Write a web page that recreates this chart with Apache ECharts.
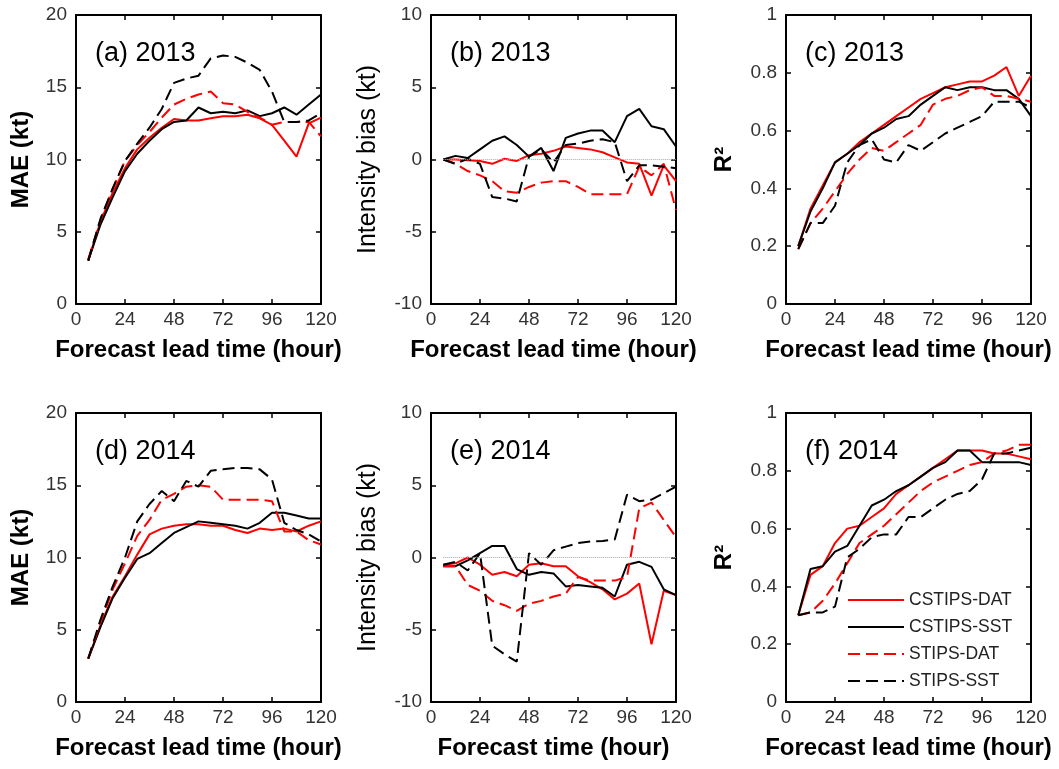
<!DOCTYPE html>
<html>
<head>
<meta charset="utf-8">
<script src="https://cdn.jsdelivr.net/npm/echarts@6/dist/echarts.min.js"></script>
<style>
  html, body { margin: 0; padding: 0; background: #fff; }
  #chart { width: 1059px; height: 769px; }
</style>
</head>
<body>
<div id="chart"></div>
<script>
// Forecast lead times (hours)
const hours = [6, 12, 18, 24, 30, 36, 42, 48, 54, 60, 66, 72, 78, 84, 90, 96, 102, 108, 114, 120];
const seriesNames = ['CSTIPS-DAT', 'CSTIPS-SST', 'STIPS-DAT', 'STIPS-SST'];
const panelLabels = ['(a) 2013', '(b) 2013', '(c) 2013', '(d) 2014', '(e) 2014', '(f) 2014'];
const yTitles = ['MAE (kt)', 'Intensity bias (kt)', 'R\u00B2'];
const xTitles = ['Forecast lead time (hour)', 'Forecast lead time (hour)', 'Forecast lead time (hour)',
                 'Forecast lead time (hour)', 'Forecast time (hour)', 'Forecast lead time (hour)'];

// (a) MAE 2013
const maeCstipsDat2013 = [3.0, 5.7, 7.7, 9.4, 10.7, 11.5, 12.2, 12.8, 12.7, 12.7, 12.85, 13.0, 13.0, 13.1, 12.85, 12.4, 11.3, 10.2, 12.5, 12.9];
const maeCstipsSst2013 = [3.0, 5.5, 7.4, 9.2, 10.4, 11.3, 12.1, 12.6, 12.7, 13.6, 13.2, 13.3, 13.2, 13.4, 13.0, 13.2, 13.6, 13.1, 13.8, 14.5];
const maeStipsDat2013  = [3.1, 5.8, 8.0, 9.9, 11.0, 11.9, 12.9, 13.8, 14.2, 14.5, 14.7, 13.9, 13.8, 13.3, 12.9, 12.4, 12.6, 12.6, 12.6, 11.6];
const maeStipsSst2013  = [3.0, 5.9, 8.0, 9.9, 11.1, 12.2, 13.5, 15.3, 15.6, 15.8, 17.0, 17.2, 17.1, 16.7, 16.2, 14.7, 12.6, 12.6, 12.7, 13.2];
// (b) Intensity bias 2013
const biasCstipsDat2013 = [0, 0, -0.05, -0.1, -0.3, 0.05, -0.1, 0.3, 0.4, 0.6, 0.9, 0.8, 0.7, 0.5, 0.15, -0.2, -0.3, -2.5, -0.4, -1.5];
const biasCstipsSst2013 = [0, 0.25, 0.1, 0.7, 1.3, 1.6, 1.0, 0.2, 0.8, -0.8, 1.5, 1.8, 2.0, 2.0, 1.2, 3.0, 3.5, 2.3, 2.1, 0.9];
const biasStipsDat2013  = [0, -0.3, -0.8, -1.1, -1.5, -2.2, -2.3, -1.9, -1.6, -1.5, -1.5, -1.9, -2.4, -2.4, -2.4, -2.4, -0.5, -1.1, -0.3, -3.5];
const biasStipsSst2013  = [0, -0.3, 0.05, -0.3, -2.6, -2.7, -2.9, 0.2, 0.7, -0.2, 1.0, 1.1, 1.3, 1.4, 1.2, -1.5, -0.4, -0.4, -0.5, -0.6];
// (c) R^2 2013
const r2CstipsDat2013 = [0.20, 0.33, 0.41, 0.49, 0.52, 0.56, 0.59, 0.62, 0.65, 0.68, 0.71, 0.73, 0.75, 0.76, 0.77, 0.77, 0.79, 0.82, 0.72, 0.79];
const r2CstipsSst2013 = [0.20, 0.32, 0.40, 0.49, 0.52, 0.55, 0.59, 0.61, 0.64, 0.65, 0.69, 0.72, 0.75, 0.74, 0.75, 0.75, 0.74, 0.74, 0.71, 0.65];
const r2StipsDat2013  = [0.19, 0.28, 0.33, 0.39, 0.45, 0.50, 0.54, 0.53, 0.56, 0.59, 0.62, 0.69, 0.71, 0.72, 0.74, 0.75, 0.72, 0.72, 0.71, 0.70];
const r2StipsSst2013  = [0.19, 0.28, 0.28, 0.34, 0.49, 0.55, 0.57, 0.50, 0.49, 0.55, 0.53, 0.56, 0.59, 0.61, 0.63, 0.65, 0.70, 0.70, 0.70, 0.68];
// (d) MAE 2014
const maeCstipsDat2014 = [3.0, 5.3, 7.3, 8.7, 10.2, 11.6, 12.0, 12.2, 12.3, 12.3, 12.2, 12.2, 11.9, 11.7, 12.0, 11.9, 12.0, 11.8, 12.2, 12.5];
const maeCstipsSst2014 = [3.0, 5.2, 7.2, 8.6, 9.9, 10.3, 11.0, 11.7, 12.1, 12.5, 12.4, 12.3, 12.2, 12.0, 12.4, 13.1, 13.1, 12.9, 12.7, 12.7];
const maeStipsDat2014  = [3.0, 5.5, 7.8, 9.6, 11.5, 12.6, 14.0, 14.4, 14.9, 15.0, 14.9, 14.0, 14.0, 14.0, 14.0, 13.9, 11.8, 11.8, 11.2, 10.9];
const maeStipsSst2014  = [3.0, 5.7, 8.0, 10.0, 12.5, 13.7, 14.6, 13.9, 15.3, 14.9, 16.0, 16.1, 16.2, 16.2, 16.1, 15.4, 12.4, 11.9, 11.6, 11.1];
// (e) Intensity bias 2014
const biasCstipsDat2014 = [-0.5, -0.4, 0, -0.5, -1.2, -1.0, -1.3, -0.5, -0.4, -0.6, -0.6, -1.3, -1.7, -2.2, -2.9, -2.5, -1.8, -6.0, -2.3, -2.6];
const biasCstipsSst2014 = [-0.6, -0.6, -0.2, 0.3, 0.8, 0.8, -0.8, -1.2, -1.0, -1.1, -2.0, -1.9, -2.0, -2.1, -2.7, -0.5, -0.3, -0.65, -2.2, -2.6];
const biasStipsDat2014  = [-0.6, -0.6, -1.9, -2.3, -3.0, -3.3, -3.7, -3.2, -3.0, -2.7, -2.5, -1.35, -1.6, -1.6, -1.6, -1.35, 3.4, 3.8, 2.6, 1.4];
const biasStipsSst2014  = [-0.5, -0.3, -0.9, 0.3, -6.1, -6.7, -7.2, 0.3, -0.5, 0.5, 0.75, 1.0, 1.1, 1.15, 1.25, 4.35, 3.9, 4.0, 4.45, 4.9];
// (f) R^2 2014
const r2CstipsDat2014 = [0.30, 0.44, 0.47, 0.55, 0.60, 0.61, 0.64, 0.67, 0.72, 0.75, 0.78, 0.81, 0.84, 0.87, 0.87, 0.87, 0.86, 0.86, 0.85, 0.84];
const r2CstipsSst2014 = [0.30, 0.46, 0.47, 0.52, 0.54, 0.61, 0.68, 0.70, 0.73, 0.75, 0.78, 0.81, 0.83, 0.87, 0.87, 0.83, 0.83, 0.83, 0.83, 0.82];
const r2StipsDat2014  = [0.30, 0.31, 0.35, 0.41, 0.48, 0.55, 0.58, 0.61, 0.65, 0.69, 0.73, 0.76, 0.78, 0.80, 0.82, 0.83, 0.86, 0.87, 0.89, 0.89];
const r2StipsSst2014  = [0.30, 0.31, 0.31, 0.33, 0.50, 0.53, 0.57, 0.58, 0.58, 0.64, 0.64, 0.67, 0.70, 0.72, 0.73, 0.77, 0.86, 0.86, 0.87, 0.88];

// Zero reference (dotted) for the bias panels
const zeroRef = [[6, 0], [120, 0]];

const panelData = [
  [maeCstipsDat2013, maeCstipsSst2013, maeStipsDat2013, maeStipsSst2013],
  [biasCstipsDat2013, biasCstipsSst2013, biasStipsDat2013, biasStipsSst2013],
  [r2CstipsDat2013, r2CstipsSst2013, r2StipsDat2013, r2StipsSst2013],
  [maeCstipsDat2014, maeCstipsSst2014, maeStipsDat2014, maeStipsSst2014],
  [biasCstipsDat2014, biasCstipsSst2014, biasStipsDat2014, biasStipsSst2014],
  [r2CstipsDat2014, r2CstipsSst2014, r2StipsDat2014, r2StipsSst2014]
];

const yRanges = [
  { min: 0, max: 20, interval: 5 },
  { min: -10, max: 10, interval: 5 },
  { min: 0, max: 1, interval: 0.2 }
];

const FONT = "'Liberation Sans', Arial, sans-serif";
const lineStyles = [
  { color: '#ff0000', type: 'solid' },
  { color: '#000000', type: 'solid' },
  { color: '#ff0000', type: [12, 6] },
  { color: '#000000', type: [12, 6] }
];

// Layout of the 2x3 panel grid
const colLeft = [76, 431, 786];
const rowTop = [15, 413];
const panelW = 245;
const panelH = 289;
const yNameGap = [43, 50, 50];

const grids = [], xAxes = [], yAxes = [], series = [], titles = [];

for (let p = 0; p < 6; p++) {
  const col = p % 3, row = Math.floor(p / 3);
  grids.push({ left: colLeft[col], top: rowTop[row], width: panelW, height: panelH, containLabel: false });

  const tick = { show: true, inside: true, length: 5, lineStyle: { color: '#000', width: 1.5 } };
  const line = { show: true, onZero: false, lineStyle: { color: '#000', width: 2 } };

  xAxes.push({
    gridIndex: p, type: 'value', position: 'bottom', min: 0, max: 120, interval: 24,
    axisLine: line, axisTick: tick, splitLine: { show: false },
    axisLabel: { margin: 6, fontSize: 19, color: '#333', fontFamily: FONT },
    name: xTitles[p], nameLocation: 'middle', nameGap: 34,
    nameTextStyle: { fontSize: 24, fontWeight: 'bold', color: '#000', fontFamily: FONT }
  });
  xAxes.push({
    gridIndex: p, type: 'value', position: 'top', min: 0, max: 120, interval: 24,
    axisLine: line, axisTick: tick, splitLine: { show: false }, axisLabel: { show: false }
  });

  const yr = yRanges[col];
  const isBias = col === 1;
  yAxes.push({
    gridIndex: p, type: 'value', position: 'left', min: yr.min, max: yr.max, interval: yr.interval,
    axisLine: line, axisTick: tick, splitLine: { show: false },
    axisLabel: { margin: 9, fontSize: 19, color: '#333', fontFamily: FONT },
    name: yTitles[col], nameLocation: 'middle', nameGap: yNameGap[col],
    nameTextStyle: {
      fontSize: isBias ? 25 : 24, fontWeight: isBias ? 'normal' : 'bold',
      color: '#000', fontFamily: FONT
    }
  });
  yAxes.push({
    gridIndex: p, type: 'value', position: 'right', min: yr.min, max: yr.max, interval: yr.interval,
    axisLine: line, axisTick: tick, splitLine: { show: false }, axisLabel: { show: false }
  });

  const xi = p * 2, yi = p * 2;
  panelData[p].forEach((vals, k) => {
    const s = {
      type: 'line', name: seriesNames[k], xAxisIndex: xi, yAxisIndex: yi,
      data: hours.map((h, i) => [h, vals[i]]),
      showSymbol: false, symbol: 'none', silent: true,
      lineStyle: { width: 2, color: lineStyles[k].color, type: lineStyles[k].type },
      itemStyle: { color: lineStyles[k].color },
      z: 3
    };
    if (isBias && k === 0) {
      s.markLine = {
        silent: true, symbol: 'none', label: { show: false },
        lineStyle: { color: '#aaa', type: 'dotted', width: 1 },
        data: [[{ coord: zeroRef[0] }, { coord: zeroRef[1] }]]
      };
    }
    series.push(s);
  });

  titles.push({
    text: panelLabels[p], left: colLeft[col] + 19, top: rowTop[row] + 25, padding: 0,
    textStyle: { fontSize: 27, fontWeight: 'normal', color: '#000', fontFamily: FONT }
  });
}

const chart = echarts.init(document.getElementById('chart'), null, { renderer: 'canvas' });
chart.setOption({
  animation: false,
  backgroundColor: '#fff',
  title: titles,
  grid: grids,
  xAxis: xAxes,
  yAxis: yAxes,
  legend: {
    data: seriesNames, orient: 'vertical', left: 847, top: 591, padding: 0,
    itemWidth: 56, itemHeight: 14, itemGap: 9,
    itemStyle: { opacity: 0 },
    textStyle: { fontSize: 17.5, color: '#222', fontFamily: FONT },
    selectedMode: false
  },
  series: series
});
</script>
</body>
</html>
